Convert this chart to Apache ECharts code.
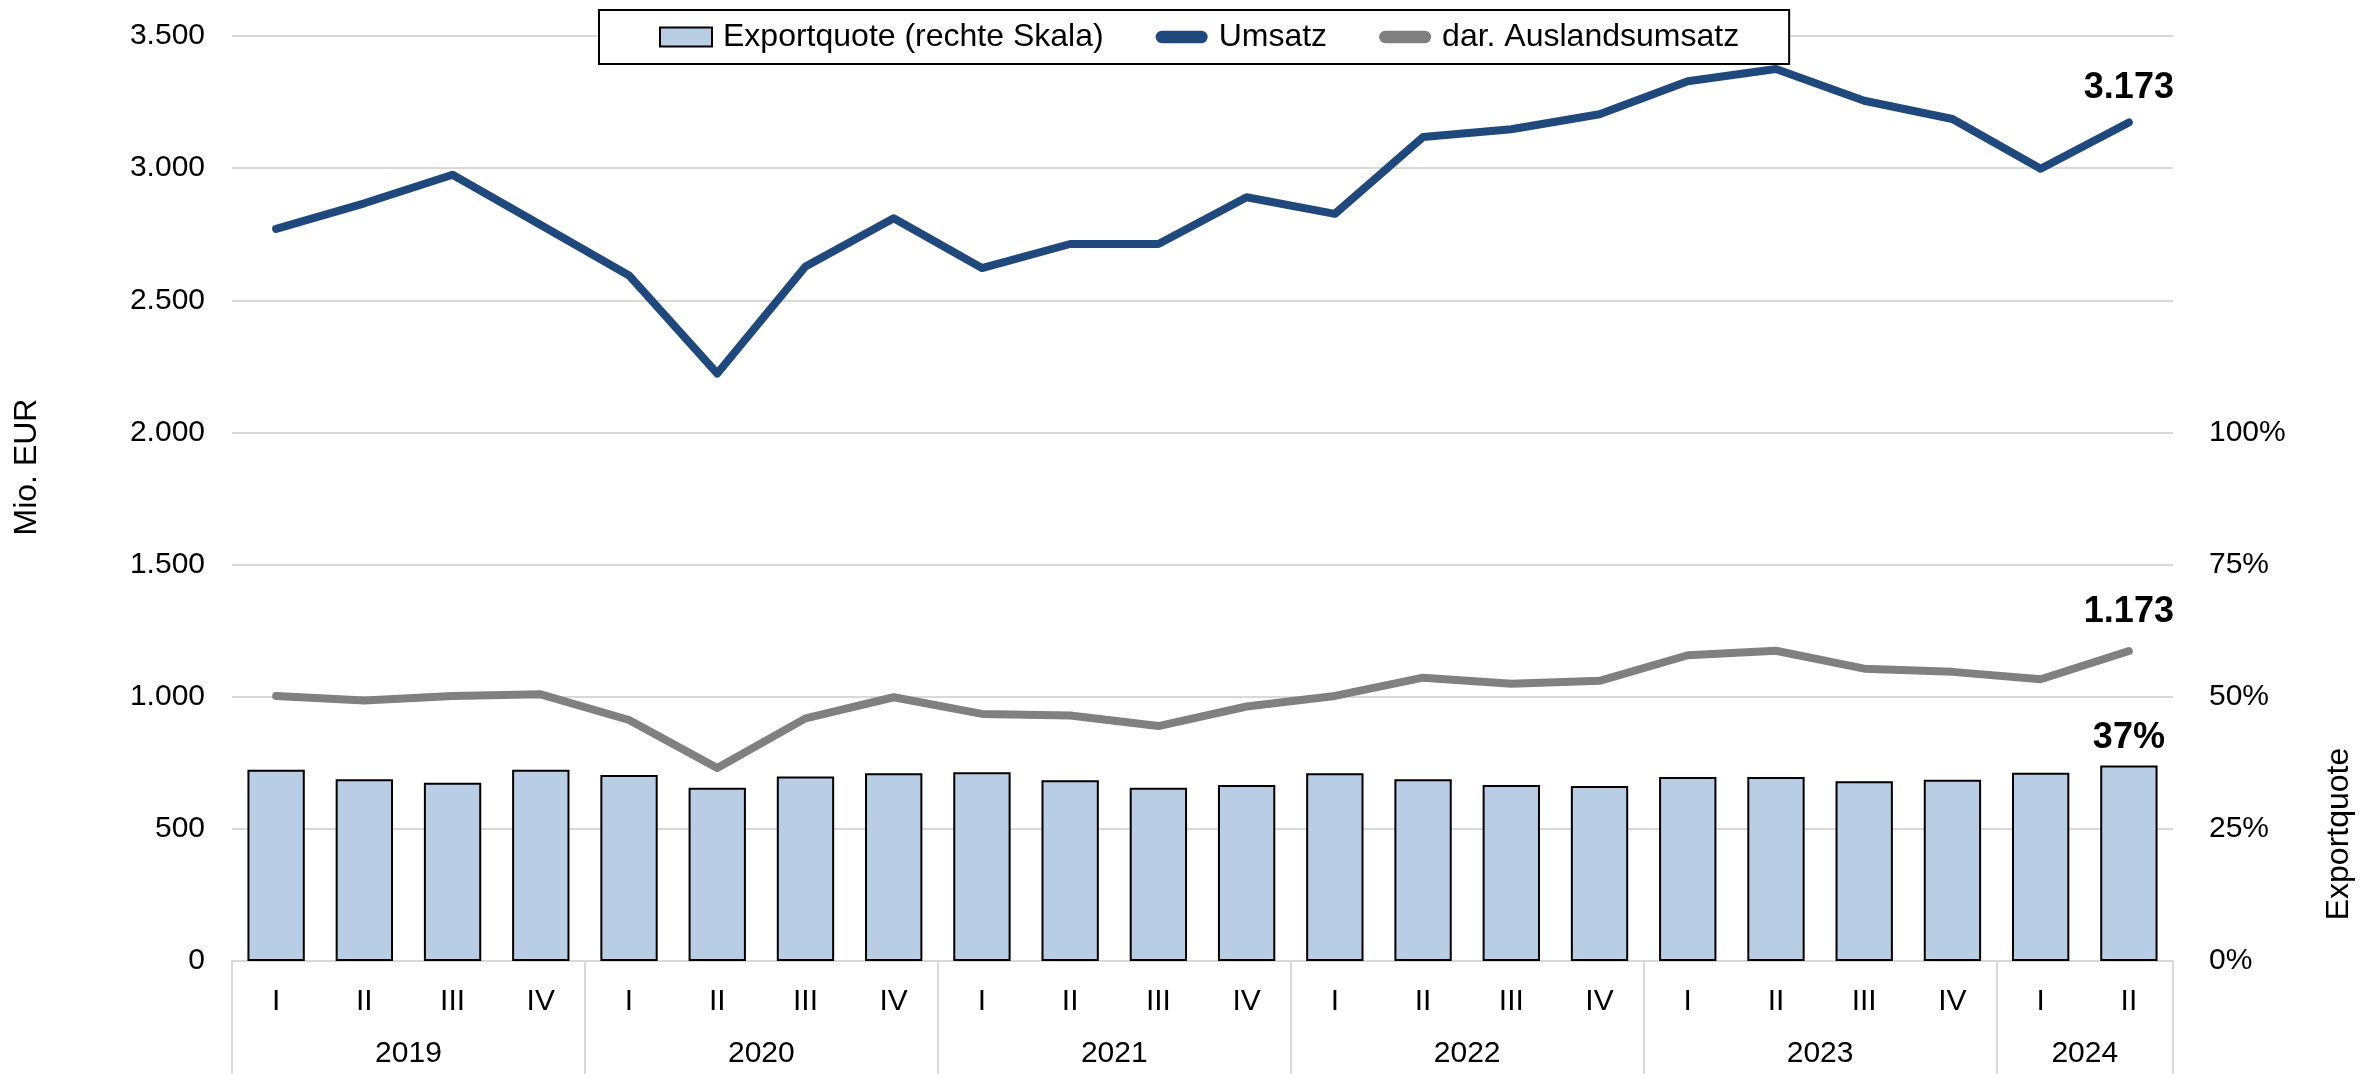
<!DOCTYPE html>
<html lang="de">
<head>
    <meta charset="UTF-8">
    <title>Umsatz und Exportquote</title>
    <script src="https://cdn.jsdelivr.net/npm/echarts@6/dist/echarts.min.js"></script>
    <style>
        html, body { margin: 0; padding: 0; background: #fff; }
        #chart { width: 2361px; height: 1074px; }
    </style>
</head>
<body>
    <div id="chart"></div>

    <script>
        // Quartale 2019 I bis 2024 II
        const quarters = ['I', 'II', 'III', 'IV', 'I', 'II', 'III', 'IV', 'I', 'II', 'III', 'IV',
                          'I', 'II', 'III', 'IV', 'I', 'II', 'III', 'IV', 'I', 'II'];
        const years = ['2019', '2020', '2021', '2022', '2023', '2024'];
        const yearCenters = [2, 6, 10, 14, 18, 21];
        const yearBorders = [0, 4, 8, 12, 16, 20, 22];

        // Mio. EUR
        const umsatz = [2770, 2867, 2975, 2785, 2594, 2223, 2628, 2810, 2622, 2713, 2713, 2890,
                        2827, 3118, 3147, 3204, 3329, 3375, 3255, 3186, 2998, 3173];
        const auslandsumsatz = [1003, 986, 1003, 1009, 912, 730, 918, 998, 935, 929, 889, 963,
                                1003, 1072, 1049, 1060, 1157, 1174, 1106, 1094, 1066, 1173];
        // Prozent
        const exportquote = [36.2, 34.4, 33.7, 36.2, 35.2, 32.8, 34.9, 35.5, 35.7, 34.2, 32.8, 33.3,
                             35.5, 34.4, 33.3, 33.1, 34.8, 34.8, 34.0, 34.3, 35.6, 37.0];

        const leftTicks = [0, 500, 1000, 1500, 2000, 2500, 3000, 3500];

        const FONT = 'Liberation Sans, Arial, sans-serif';
        const last = quarters.length - 1;

        // deutsche Tausenderpunkte
        function fmt(v) {
            return String(v).replace(/\B(?=(\d{3})+(?!\d))/g, '.');
        }

        function endLabel(distance, text) {
            return {
                show: true,
                position: 'top',
                distance: distance,
                fontSize: 36,
                fontWeight: 'bold',
                color: '#000',
                fontFamily: FONT,
                formatter: p => (p.dataIndex === last ? text(p.value) : '')
            };
        }

        const chart = echarts.init(document.getElementById('chart'));

        const lineIcon = 'path://M6,0 H44 A6,6 0 0 1 44,12 H6 A6,6 0 0 1 6,0 Z';

        const option = {
            animation: false,
            backgroundColor: '#fff',
            textStyle: { fontFamily: FONT, color: '#000' },
            grid: { left: 232, right: 188, top: 36, bottom: 113 },
            legend: {
                left: 599,
                top: 10,
                padding: [11, 50, 11, 60],
                itemGap: 52,
                itemWidth: 52,
                itemHeight: 19,
                borderColor: '#000',
                borderWidth: 2,
                backgroundColor: '#fff',
                formatter: name => (name === 'Umsatz' ? '{u|' + name + '}' : name),
                textStyle: {
                    fontSize: 32, color: '#000', fontFamily: FONT, padding: [0, 0, 0, 6],
                    rich: { u: { fontSize: 32, fontFamily: FONT, color: '#000', padding: [0, 24, 0, 0] } }
                },
                data: [
                    { name: 'Exportquote (rechte Skala)', icon: 'rect' },
                    { name: 'Umsatz', icon: lineIcon },
                    { name: 'dar. Auslandsumsatz', icon: lineIcon }
                ]
            },
            xAxis: [
                {
                    type: 'category',
                    data: quarters,
                    position: 'bottom',
                    axisLine: { lineStyle: { color: '#D9D9D9', width: 2 } },
                    axisTick: { show: false },
                    axisLabel: { fontSize: 30, color: '#000', margin: 26, fontFamily: FONT }
                },
                {
                    type: 'value',
                    min: 0,
                    max: quarters.length,
                    position: 'bottom',
                    axisLine: { show: false },
                    splitLine: { show: false },
                    axisTick: {
                        show: true,
                        customValues: yearBorders,
                        length: 116,
                        lineStyle: { color: '#D9D9D9', width: 2 }
                    },
                    axisLabel: {
                        customValues: yearCenters,
                        fontSize: 30,
                        color: '#000',
                        margin: 78,
                        fontFamily: FONT,
                        formatter: v => years[yearCenters.indexOf(v)] || ''
                    }
                }
            ],
            yAxis: [
                {
                    type: 'value',
                    min: 0,
                    max: leftTicks[leftTicks.length - 1],
                    interval: 500,
                    axisLine: { show: false },
                    axisTick: { show: false },
                    splitLine: { lineStyle: { color: '#D9D9D9', width: 2 } },
                    axisLabel: { fontSize: 30, color: '#000', margin: 27, fontFamily: FONT, formatter: v => fmt(v) }
                },
                {
                    type: 'value',
                    min: 0,
                    max: 175,
                    interval: 25,
                    position: 'right',
                    axisLine: { show: false },
                    axisTick: { show: false },
                    splitLine: { show: false },
                    axisLabel: {
                        fontSize: 30, color: '#000', margin: 36, fontFamily: FONT,
                        formatter: v => (v <= 100 ? v + '%' : '')
                    }
                }
            ],
            graphic: [
                {
                    type: 'text',
                    x: 27, y: 467,
                    rotation: Math.PI / 2,
                    style: { text: 'Mio. EUR', font: '32px ' + FONT, fill: '#000', align: 'center', verticalAlign: 'middle' }
                },
                {
                    type: 'text',
                    x: 2339, y: 834,
                    rotation: Math.PI / 2,
                    style: { text: 'Exportquote', font: '32px ' + FONT, fill: '#000', align: 'center', verticalAlign: 'middle' }
                }
            ],
            series: [
                {
                    name: 'Exportquote (rechte Skala)',
                    type: 'bar',
                    yAxisIndex: 1,
                    data: exportquote,
                    barCategoryGap: '35%',
                    itemStyle: { color: '#B9CDE5', borderColor: '#000', borderWidth: 2 },
                    label: endLabel(9, v => Math.round(v) + '%'),
                    z: 2
                },
                {
                    name: 'Umsatz',
                    type: 'line',
                    data: umsatz,
                    symbol: 'circle',
                    symbolSize: 1,
                    showSymbol: true,
                    itemStyle: { color: '#1F497D' },
                    lineStyle: { color: '#1F497D', width: 8, cap: 'round', join: 'round' },
                    label: endLabel(16, fmt),
                    z: 4
                },
                {
                    name: 'dar. Auslandsumsatz',
                    type: 'line',
                    data: auslandsumsatz,
                    symbol: 'circle',
                    symbolSize: 1,
                    showSymbol: true,
                    itemStyle: { color: '#808080' },
                    lineStyle: { color: '#808080', width: 8, cap: 'round', join: 'round' },
                    label: endLabel(20, fmt),
                    z: 3
                }
            ]
        };

        chart.setOption(option);
    </script>
</body>
</html>
